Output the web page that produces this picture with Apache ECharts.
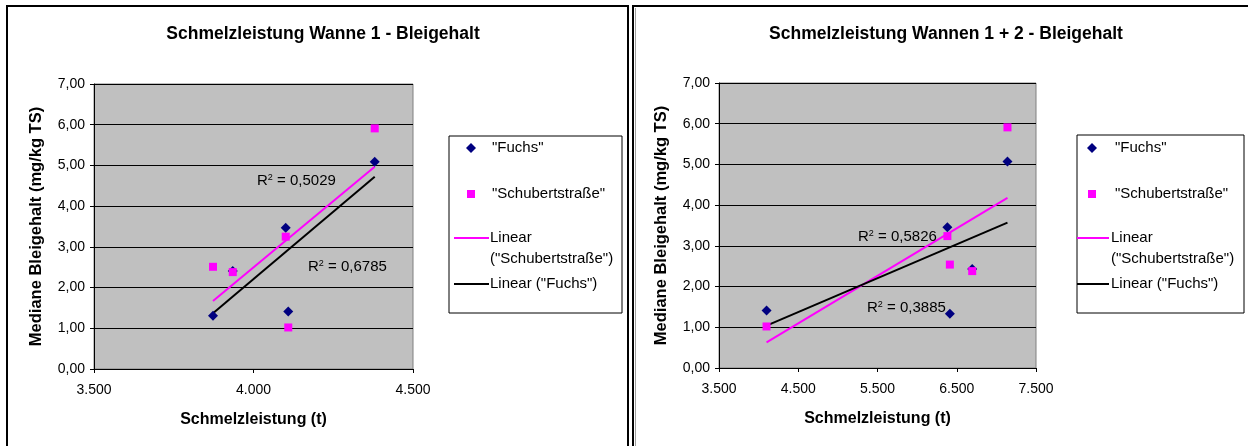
<!DOCTYPE html>
<html>
<head>
<meta charset="utf-8">
<script src="https://cdn.jsdelivr.net/npm/echarts@6/dist/echarts.min.js"></script>
<style>
html,body{margin:0;padding:0;background:#fff;}
#c{width:1248px;height:446px;}
</style>
</head>
<body>
<div id="c"></div>
<script>
// ---- data ----
const leftTitle = 'Schmelzleistung Wanne 1 - Bleigehalt';
const rightTitle = 'Schmelzleistung Wannen 1 + 2 - Bleigehalt';
const xAxisTitle = 'Schmelzleistung (t)';
const yAxisTitle = 'Mediane Bleigehalt (mg/kg TS)';
const seriesNames = ['"Fuchs"', '"Schubertstraße"', 'Linear ("Schubertstraße")', 'Linear ("Fuchs")'];

const leftX = [3873, 3935, 4101, 4109, 4380];
const leftFuchs = [1.31, 2.41, 3.47, 1.41, 5.09];
const leftSchubert = [2.51, 2.38, 3.25, 1.02, 5.91];
const leftTrendX = [3873, 4380];
const leftTrendFuchs = [1.37, 4.72];
const leftTrendSchubert = [1.67, 4.97];
const leftR2 = ['0,5029', '0,6785'];

const rightX = [4100, 6382, 6413, 6695, 7140];
const rightFuchs = [1.41, 3.46, 1.33, 2.43, 5.07];
const rightSchubert = [1.02, 3.24, 2.54, 2.38, 5.91];
const rightTrendX = [4100, 7140];
const rightTrendFuchs = [1.04, 3.57];
const rightTrendSchubert = [0.63, 4.18];
const rightR2 = ['0,5826', '0,3885'];

const leftXRange = [3500, 4500, 500];
const rightXRange = [3500, 7500, 1000];
const yRange = [0, 7, 1];

// ---- helpers ----
const FONT = '"Liberation Sans", Arial, sans-serif';
const NAVY = '#000080', MAGENTA = '#FF00FF';
const zip = (xs, ys) => xs.map((x, i) => [x, ys[i]]);
const fmtY = v => v.toFixed(2).replace('.', ',');
const fmtX = v => String(Math.round(v)).replace(/\B(?=(\d{3})+(?!\d))/g, '.');

function xAxis(gi, r) {
  return {
    type: 'value', gridIndex: gi, min: r[0], max: r[1], interval: r[2],
    name: xAxisTitle, nameLocation: 'middle', nameGap: 43,
    nameTextStyle: {fontFamily: FONT, fontSize: 16, fontWeight: 'bold', color: '#000'},
    axisLine: {show: true, onZero: false, lineStyle: {color: '#000', width: 1}},
    axisTick: {show: true, inside: false, length: 4, lineStyle: {color: '#000'}},
    axisLabel: {fontFamily: FONT, fontSize: 14, color: '#000', margin: 14, formatter: fmtX},
    splitLine: {show: false}
  };
}
function yAxis(gi) {
  return {
    type: 'value', gridIndex: gi, min: yRange[0], max: yRange[1], interval: yRange[2],
    name: yAxisTitle, nameLocation: 'middle', nameGap: 49, nameRotate: 90,
    nameTextStyle: {fontFamily: FONT, fontSize: 16.5, fontWeight: 'bold', color: '#000'},
    axisLine: {show: true, onZero: false, lineStyle: {color: '#000', width: 1}},
    axisTick: {show: true, inside: false, length: 4, lineStyle: {color: '#000'}},
    axisLabel: {fontFamily: FONT, fontSize: 14, color: '#000', margin: 9, formatter: fmtY},
    splitLine: {show: true, lineStyle: {color: '#000', width: 1}}
  };
}
function scatter(name, gi, xs, ys, sym, size, color, z) {
  return {type: 'scatter', name, xAxisIndex: gi, yAxisIndex: gi, data: zip(xs, ys),
    symbol: sym, symbolSize: size, itemStyle: {color, opacity: 1}, z, silent: true};
}
function trend(name, gi, xs, ys, color) {
  return {type: 'line', name, xAxisIndex: gi, yAxisIndex: gi, data: zip(xs, ys),
    showSymbol: false, symbol: 'none', lineStyle: {color, width: 2}, z: 2, silent: true};
}
function r2Text(x, y, val) {
  return {type: 'text', x, y, z: 50, style: {
    text: '{a|R}{s|2}{a| = ' + val + '}', verticalAlign: 'middle',
    rich: {a: {fontFamily: FONT, fontSize: 15, fill: '#000'},
           s: {fontFamily: FONT, fontSize: 9, fill: '#000', padding: [0, 0, 7, 0]}}}};
}
function legendBox(x0, y0, w, h, mx, lx0, lx1, tx, ltx) {
  const ts = () => ({fontFamily: FONT, fontSize: 15, fill: '#000', verticalAlign: 'middle'});
  return [
    {type: 'rect', shape: {x: x0, y: y0, width: w, height: h}, style: {fill: '#fff', stroke: '#000', lineWidth: 1}, z: 40},
    {type: 'polygon', shape: {points: [[mx, 148 - 5], [mx + 5, 148], [mx, 148 + 5], [mx - 5, 148]]}, style: {fill: NAVY}, z: 41},
    {type: 'text', x: tx, y: 148, style: Object.assign({text: seriesNames[0]}, ts()), z: 41},
    {type: 'rect', shape: {x: mx - 4, y: 194 - 4, width: 8, height: 8}, style: {fill: MAGENTA}, z: 41},
    {type: 'text', x: tx, y: 194, style: Object.assign({text: seriesNames[1]}, ts()), z: 41},
    {type: 'line', shape: {x1: lx0, y1: 238, x2: lx1, y2: 238}, style: {stroke: MAGENTA, lineWidth: 2}, z: 41},
    {type: 'text', x: ltx, y: 238, style: Object.assign({text: 'Linear'}, ts()), z: 41},
    {type: 'text', x: ltx, y: 259, style: Object.assign({text: '("Schubertstraße")'}, ts()), z: 41},
    {type: 'line', shape: {x1: lx0, y1: 284, x2: lx1, y2: 284}, style: {stroke: '#000', lineWidth: 2}, z: 41},
    {type: 'text', x: ltx, y: 284, style: Object.assign({text: 'Linear ("Fuchs")'}, ts()), z: 41}
  ];
}

const chart = echarts.init(document.getElementById('c'), null, {renderer: 'canvas'});
chart.setOption({
  animation: false,
  backgroundColor: '#fff',
  title: [
    {text: leftTitle, left: 318, top: 20, textAlign: 'center',
     textStyle: {fontFamily: FONT, fontSize: 17.5, fontWeight: 'bold', color: '#000'}},
    {text: rightTitle, left: 941, top: 20, textAlign: 'center',
     textStyle: {fontFamily: FONT, fontSize: 17.5, fontWeight: 'bold', color: '#000'}}
  ],
  grid: [
    {left: 94, top: 84, width: 319, height: 285, show: true, backgroundColor: '#C0C0C0', borderColor: '#808080', borderWidth: 1, containLabel: false},
    {left: 719, top: 83, width: 317, height: 285, show: true, backgroundColor: '#C0C0C0', borderColor: '#808080', borderWidth: 1, containLabel: false}
  ],
  xAxis: [xAxis(0, leftXRange), xAxis(1, rightXRange)],
  yAxis: [yAxis(0), yAxis(1)],
  series: [
    trend(seriesNames[2], 0, leftTrendX, leftTrendSchubert, MAGENTA),
    trend(seriesNames[3], 0, leftTrendX, leftTrendFuchs, '#000'),
    scatter(seriesNames[0], 0, leftX, leftFuchs, 'diamond', 10, NAVY, 3),
    scatter(seriesNames[1], 0, leftX, leftSchubert, 'rect', 8, MAGENTA, 4),
    trend(seriesNames[2], 1, rightTrendX, rightTrendSchubert, MAGENTA),
    trend(seriesNames[3], 1, rightTrendX, rightTrendFuchs, '#000'),
    scatter(seriesNames[0], 1, rightX, rightFuchs, 'diamond', 10, NAVY, 3),
    scatter(seriesNames[1], 1, rightX, rightSchubert, 'rect', 8, MAGENTA, 4)
  ],
  graphic: [
    {type: 'rect', shape: {x: 7, y: 6, width: 621, height: 470}, style: {fill: null, stroke: '#000', lineWidth: 2}, z: 30, silent: true},
    {type: 'rect', shape: {x: 633, y: 6, width: 630, height: 470}, style: {fill: null, stroke: '#000', lineWidth: 2}, z: 30, silent: true},
    {type: 'line', shape: {x1: 635.5, y1: 8, x2: 635.5, y2: 446}, style: {stroke: '#a0a0a0', lineWidth: 1}, z: 30, silent: true},
    r2Text(257, 181, leftR2[0]),
    r2Text(308, 267, leftR2[1]),
    r2Text(858, 237, rightR2[0]),
    r2Text(867, 308, rightR2[1])
  ].concat(legendBox(449, 136, 173, 177, 471, 454, 489, 492, 490))
   .concat(legendBox(1077, 135, 167, 178, 1092, 1077, 1109, 1115, 1111))
});
</script>
</body>
</html>
